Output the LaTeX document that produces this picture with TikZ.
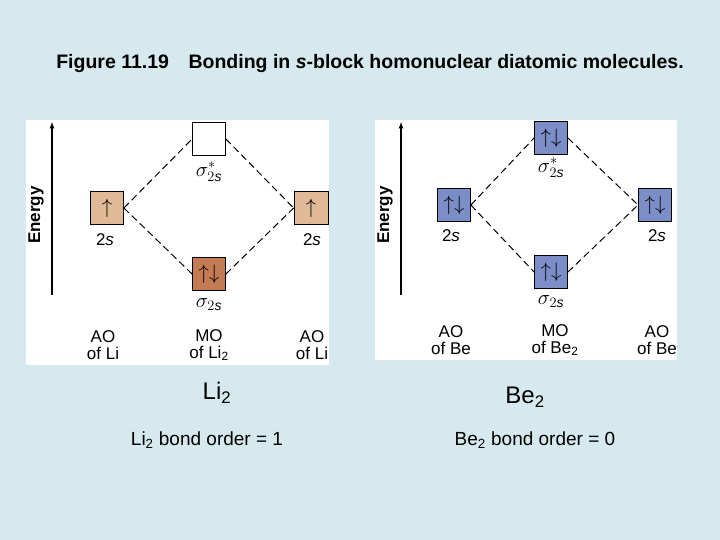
\documentclass[tikz,border=0pt]{standalone}
\usepackage{fontspec}
\setmainfont{Liberation Sans}
\usepackage{amsmath}
\usetikzlibrary{positioning}
\definecolor{bgblue}{RGB}{214,233,238}
\definecolor{tanlight}{RGB}{224,186,150}
\definecolor{tandark}{RGB}{196,122,82}
\definecolor{beblue}{RGB}{124,142,200}
\tikzset{
  orb/.style={draw=black,line width=0.8pt,minimum size=33pt,inner sep=0pt,font=\fontsize{22}{22}\selectfont},
  lbl/.style={font=\fontsize{17}{17}\selectfont,align=center},
  sig/.style={font=\fontsize{20}{20}\selectfont},
  conn/.style={line width=1pt,dash pattern=on 7pt off 4pt}
}
\newcommand{\updn}{$\uparrow\downarrow$}
\newcommand{\sub}[1]{\textsubscript{#1}}
\begin{document}
\begin{tikzpicture}[x=1pt,y=-1pt]
  \fill[bgblue] (0,0) rectangle (720,540);
  \useasboundingbox (0,0) rectangle (720,540);
  \node[font=\bfseries\fontsize{19.5}{20}\selectfont] (title) at (370,64)
    {Figure 11.19\quad Bonding in \textit{s}-block homonuclear diatomic molecules.};
  % Li2 panel
  \fill[white] (26,120) rectangle (329,365);
  \draw[-latex,line width=1.2pt] (52,295) -- (52,122);
  \node[rotate=90,font=\bfseries\fontsize{17}{17}\selectfont] (lien) at (36,215) {Energy};
  \node[orb,fill=tanlight] (liaoa) at (107,208) {$\uparrow$};
  \node[orb,fill=white] (lissx) at (209,139) {};
  \node[orb,fill=tandark] (liss) at (209,274) {\updn};
  \node[orb,fill=tanlight,minimum width=34pt] (liaob) at (311,208) {$\uparrow$};
  \draw[conn] (liaoa.east) -- (lissx.west);
  \draw[conn] (liaoa.east) -- (liss.west);
  \draw[conn] (lissx.east) -- (liaob.west);
  \draw[conn] (liss.east) -- (liaob.west);
  \node[lbl] (lilba) at (105,240) {2\textit{s}};
  \node[lbl] (lilbb) at (312,240) {2\textit{s}};
  \node[sig] (lilbx) at (209,172) {$\sigma^{*}_{2\mathit{s}}$};
  \node[sig] (lilbs) at (209,305) {$\sigma_{2\mathit{s}}$};
  \node[lbl] (liaot) at (103,345) {AO\\of Li};
  \node[lbl] (limot) at (209,345) {MO\\of Li\sub{2}};
  \node[lbl] (liaou) at (312,345) {AO\\of Li};
  % Be2 panel
  \fill[white] (375,120) rectangle (677,360);
  \draw[-latex,line width=1.2pt] (401,295) -- (401,122);
  \node[rotate=90,font=\bfseries\fontsize{17}{17}\selectfont] (been) at (385,215) {Energy};
  \node[orb,fill=beblue] (beaoa) at (454,205) {\updn};
  \node[orb,fill=beblue] (bessx) at (551,138) {\updn};
  \node[orb,fill=beblue] (bess) at (551,272) {\updn};
  \node[orb,fill=beblue] (beaob) at (655,205) {\updn};
  \draw[conn] (beaoa.east) -- (bessx.west);
  \draw[conn] (beaoa.east) -- (bess.west);
  \draw[conn] (bessx.east) -- (beaob.west);
  \draw[conn] (bess.east) -- (beaob.west);
  \node[lbl] (belba) at (451,236) {2\textit{s}};
  \node[lbl] (belbb) at (657,236) {2\textit{s}};
  \node[sig] (belbx) at (551,168) {$\sigma^{*}_{2\mathit{s}}$};
  \node[sig] (belbs) at (551,302) {$\sigma_{2\mathit{s}}$};
  \node[lbl] (beaot) at (451,340) {AO\\of Be};
  \node[lbl] (bemot) at (555,340) {MO\\of Be\sub{2}};
  \node[lbl] (beaou) at (657,340) {AO\\of Be};
  % captions
  \node[font=\fontsize{24}{24}\selectfont] (linm) at (217,393) {Li\sub{2}};
  \node[font=\fontsize{24}{24}\selectfont] (benm) at (525,397) {Be\sub{2}};
  \node[font=\fontsize{19}{19}\selectfont] (libo) at (207,440) {Li\sub{2} bond order = 1};
  \node[font=\fontsize{19}{19}\selectfont] (bebo) at (535,440) {Be\sub{2} bond order = 0};
\end{tikzpicture}
\end{document}
